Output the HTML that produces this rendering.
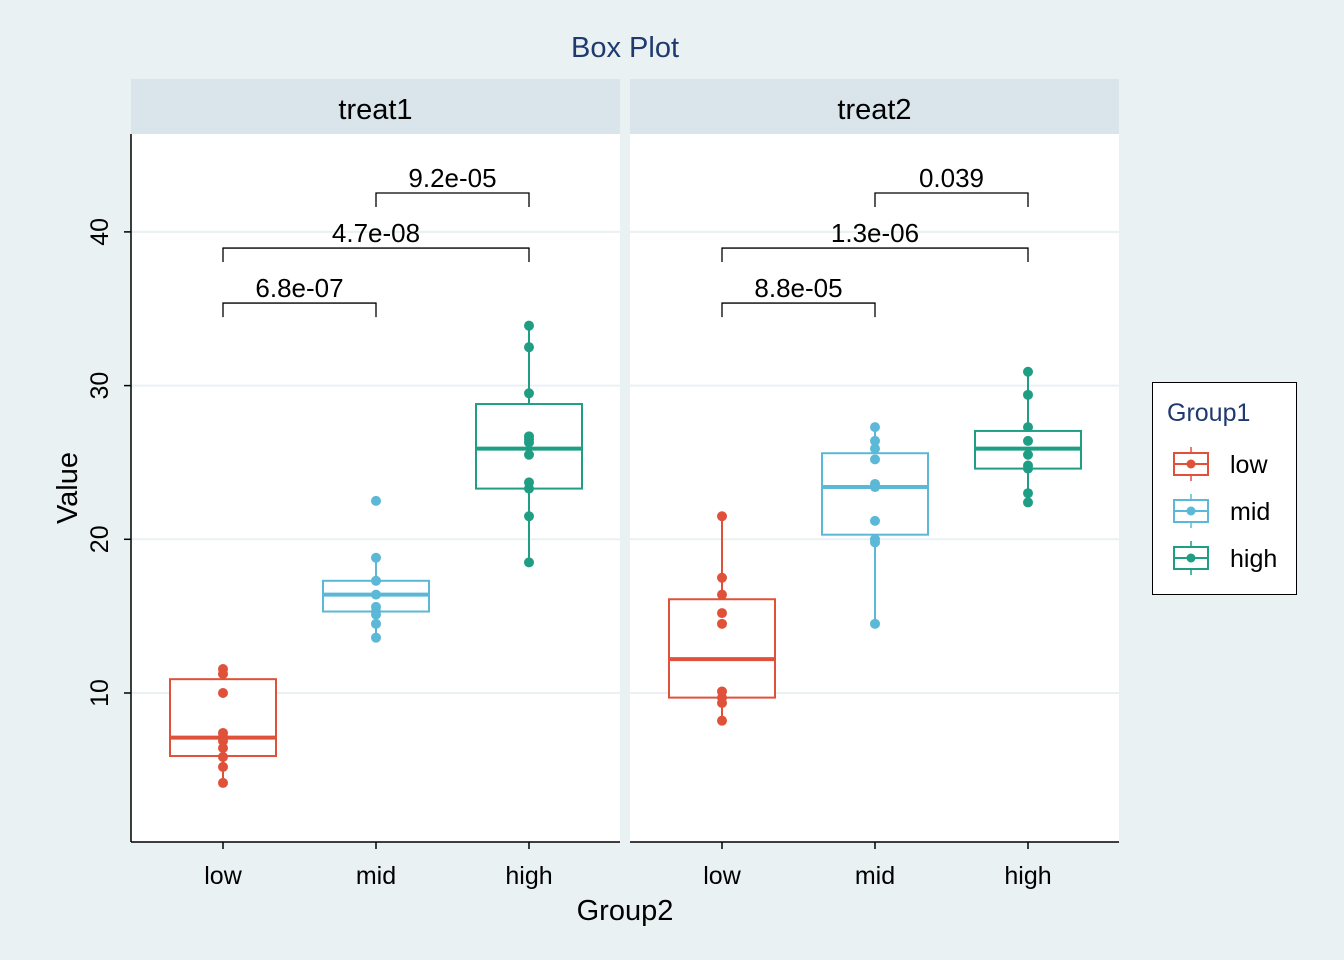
<!DOCTYPE html>
<html><head><meta charset="utf-8"><style>
body{margin:0;background:#eaf1f3;}
svg{display:block;font-family:"Liberation Sans",Arial,sans-serif;}
</style></head><body>
<svg id="chart" width="1344" height="960" viewBox="0 0 1344 960">
<rect width="1344" height="960" fill="#eaf1f3"/>
<text x="625" y="57" text-anchor="middle" font-size="29" fill="#1f3a6e">Box Plot</text>
<g id="layer"></g>
</svg>
<script>
const panels = ["treat1","treat2"];
const categories = ["low","mid","high"];
const colors = ["#e0513a","#5bb8d6","#1f9e84"];
const yTicks = [10,20,30,40];
const pointsT1 = [[11.56,11.24,10,7.4,7.14,6.88,6.42,5.84,5.19,4.15],[22.5,18.8,17.3,16.4,15.6,15.3,15.1,14.5,13.6],[33.9,32.5,29.5,26.7,26.5,26.3,25.5,23.7,23.3,21.5,18.5]];
const pointsT2 = [[21.5,17.5,16.4,15.2,14.5,10.1,9.7,9.35,8.2],[27.3,26.4,25.9,25.2,23.6,23.4,21.2,20,19.8,14.5],[30.9,29.4,27.3,26.4,25.5,24.8,24.6,23,22.4]];
// box stats: [whiskerLow, q1, median, q3, whiskerHigh]
const boxT1 = [[4.15,5.9,7.1,10.9,11.56],[13.6,15.3,16.4,17.3,18.8],[18.5,23.3,25.9,28.8,33.9]];
const boxT2 = [[8.2,9.7,12.2,16.1,21.5],[14.5,20.3,23.4,25.6,27.3],[22.4,24.6,25.9,27.05,30.9]];
const compFrom = [0,0,1];
const compTo = [1,2,2];
const compY = [35.37,38.95,42.53];
const labelsT1 = ["6.8e-07","4.7e-08","9.2e-05"];
const labelsT2 = ["8.8e-05","1.3e-06","0.039"];

const NS="http://www.w3.org/2000/svg";
const layer=document.getElementById('layer');
function el(tag,attrs,parent){const e=document.createElementNS(NS,tag);for(const k in attrs)e.setAttribute(k,attrs[k]);(parent||layer).appendChild(e);return e;}
const yScale=v=>693-(v-10)*15.37;
const panelX=[131,630], panelW=489, plotTop=134, plotBottom=842;
const xCat=(p,i)=>panelX[p]+92+i*153;
const allPts=[pointsT1,pointsT2], allBox=[boxT1,boxT2], allLab=[labelsT1,labelsT2];

panels.forEach((name,p)=>{
  const x0=panelX[p];
  const s=el('rect',{x:x0,y:79,width:panelW,height:55,fill:'#d9e5eb'});
  
  
  const st=el('text',{x:x0+panelW/2,y:119,'text-anchor':'middle','font-size':29,fill:'#000'});
  st.textContent=name;
  
  
  const bg=el('rect',{x:x0,y:plotTop,width:panelW,height:plotBottom-plotTop,fill:'#fff'});
  
  
  yTicks.forEach(t=>{
    const g=el('line',{x1:x0,x2:x0+panelW,y1:yScale(t),y2:yScale(t),stroke:'#eaf1f3','stroke-width':2});
    
    
  });
  categories.forEach((c,i)=>{
    const cx=xCat(p,i), b=allBox[p][i], col=colors[i];
    const w=el('line',{x1:cx,x2:cx,y1:yScale(b[0]),y2:yScale(b[4]),stroke:col,'stroke-width':2});
    
    
    const r=el('rect',{x:cx-53,y:yScale(b[3]),width:106,height:yScale(b[1])-yScale(b[3]),fill:'#fff',stroke:col,'stroke-width':2});
    
    
    allPts[p][i].forEach(v=>{
      const d=el('circle',{cx:cx,cy:yScale(v),r:5,fill:col});
      
      
    });
    const m=el('line',{x1:cx-53,x2:cx+53,y1:yScale(b[2]),y2:yScale(b[2]),stroke:col,'stroke-width':4});
    
    
    const tk=el('line',{x1:cx,x2:cx,y1:plotBottom,y2:plotBottom+7,stroke:'#000','stroke-width':1.5});
    
    
    const tl=el('text',{x:cx,y:884,'text-anchor':'middle','font-size':25,fill:'#000'});
    tl.textContent=c;
    
    
  });
  compFrom.forEach((f,k)=>{
    const xa=xCat(p,f), xb=xCat(p,compTo[k]), yy=yScale(compY[k]);
    const br=el('path',{d:`M${xa},${yy+14}V${yy}H${xb}V${yy+14}`,fill:'none',stroke:'#000','stroke-width':1.3});
    
    
    const lt=el('text',{x:(xa+xb)/2,y:yy-6,'text-anchor':'middle','font-size':26,fill:'#000'});
    lt.textContent=allLab[p][k];
    
    
  });
  const xa=el('line',{x1:x0,x2:x0+panelW,y1:plotBottom,y2:plotBottom,stroke:'#000','stroke-width':1.5});
  
  
});
const ya=el('line',{x1:131,x2:131,y1:plotTop,y2:plotBottom,stroke:'#000','stroke-width':1.5});


yTicks.forEach(t=>{
  const tk=el('line',{x1:124,x2:131,y1:yScale(t),y2:yScale(t),stroke:'#000','stroke-width':1.5});
  
  
  const tl=el('text',{x:108,y:yScale(t),'text-anchor':'middle','font-size':25,fill:'#000',transform:`rotate(-90 108 ${yScale(t)})`});
  tl.textContent=t;
  
  
});
const yt=el('text',{x:77,y:488,'text-anchor':'middle','font-size':29,fill:'#000',transform:'rotate(-90 77 488)'});
yt.textContent='Value';


const xt=el('text',{x:625,y:920,'text-anchor':'middle','font-size':29,fill:'#000'});
xt.textContent='Group2';


const lg=el('rect',{x:1152.5,y:382.5,width:144,height:212,fill:'#fff',stroke:'#000','stroke-width':1});


const lgt=el('text',{x:1167,y:421,'font-size':25,fill:'#1f3a6e'});
lgt.textContent='Group1';


categories.forEach((c,i)=>{
  const cy=464+i*47, col=colors[i];
  const g=el('g',{});
  
  
  el('line',{x1:1191,x2:1191,y1:cy-17,y2:cy+17,stroke:col,'stroke-width':1.5},g);
  el('rect',{x:1174,y:cy-11,width:34,height:22,fill:'#fff',stroke:col,'stroke-width':2},g);
  el('line',{x1:1174,x2:1208,y1:cy,y2:cy,stroke:col,'stroke-width':2},g);
  el('circle',{cx:1191,cy:cy,r:4.5,fill:col},g);
  const t=el('text',{x:1230,y:cy+9,'font-size':25,fill:'#000'},g);
  t.textContent=c;
});
</script>
</body></html>
